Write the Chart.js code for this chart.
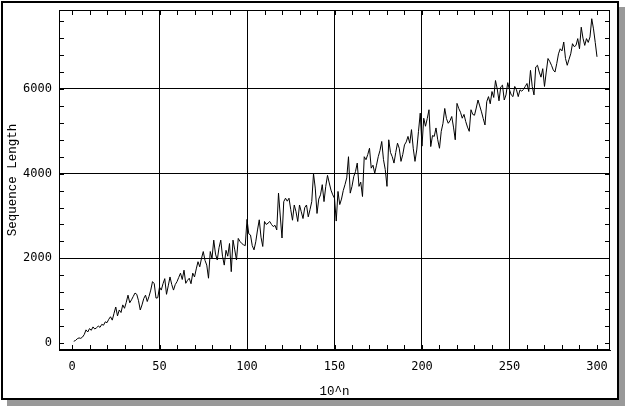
<!DOCTYPE html>
<html>
<head>
<meta charset="utf-8">
<script src="https://cdn.jsdelivr.net/npm/chart.js@4"></script>
<style>
  body { margin: 0; background: #fff; }
  #frame {
    position: absolute; left: 1px; top: 1px;
    width: 614px; height: 395px;
    border: 2px solid #000;
    box-shadow: 6px 6px 0 #999;
    background: #fff;
  }
  #chart { position: absolute; left: 0; top: 0; }
</style>
</head>
<body>
<div id="frame"></div>
<canvas id="chart" width="627" height="406"></canvas>
<script>
// sequence length for n = 1..300
const seqLength = [
  40, 60, 100, 120, 110, 140, 200, 310, 260, 340,
  300, 380, 330, 360, 400, 370, 440, 420, 500, 480,
  560, 620, 540, 700, 850, 640, 780, 720, 900, 820,
  960, 1130, 950, 1020, 1100, 1180, 1150, 1000, 780, 900,
  1050, 1130, 980, 1100, 1250, 1450, 1400, 1060, 1070, 1320,
  1250, 1400, 1520, 1150, 1350, 1560, 1380, 1250, 1380, 1450,
  1550, 1650, 1500, 1720, 1410, 1480, 1530, 1400, 1650, 1560,
  1750, 1920, 1800, 2000, 2160, 1950, 1840, 1530, 2160, 2000,
  2430, 2100, 1960, 2250, 2430, 2050, 1840, 2190, 2050, 2350,
  1685, 2430, 2200, 1960, 2470, 2400, 2350, 2320, 2300, 2920,
  2580, 2550, 2300, 2200, 2390, 2670, 2910, 2500, 2280, 2870,
  2800, 2830, 2870, 2800, 2750, 2780, 2670, 3540, 3000, 2480,
  3340, 3420, 3350, 3420, 3150, 2900, 3260, 3100, 2870, 3260,
  3100, 2940, 3200, 3260, 2980, 3150, 3340, 4000, 3660, 3060,
  3400, 3500, 3740, 3340, 3700, 3960, 3780, 3610, 3500, 3420,
  2880, 3580, 3270, 3400, 3600, 3740, 3900, 4400, 3540, 3700,
  3930, 4050, 4250, 3700, 3800, 3460, 4400, 4330, 4450, 4600,
  4130, 4200, 4010, 4200, 4400, 4550, 4760, 4330, 4100, 3700,
  4800, 4500, 4400, 4250, 4500, 4720, 4600, 4290, 4450, 4680,
  4750, 4880, 4720, 5040, 4600, 4290, 4560, 5000, 5430, 4650,
  5310, 5120, 5300, 5510, 4640, 4900, 4880, 5080, 4800, 4600,
  5000, 5190, 5540, 5300, 5190, 5250, 5350, 5100, 4800, 5660,
  5540, 5450, 5310, 5400, 5230, 5100, 5000, 5510, 5400, 5380,
  5550, 5740, 5600, 5460, 5300, 5150, 5700, 5820, 5650, 5940,
  5800, 6200, 6000, 5720, 6050, 6090, 5740, 5860, 6150, 5980,
  5860, 5820, 6060, 5980, 5820, 5980, 5950, 5990, 6060, 6130,
  5940, 6440, 6060, 5860, 6520, 6560, 6400, 6280, 6480, 6060,
  6400, 6720, 6650, 6560, 6450, 6400, 6600, 6830, 6950, 6900,
  7110, 6720, 6560, 6700, 6830, 7070, 7000, 7030, 7190, 6950,
  7460, 7200, 7030, 7190, 7100, 7230, 7660, 7420, 7100, 6760
];
const nValues = seqLength.map((_, i) => i + 1);

const xTicks = [0, 50, 100, 150, 200, 250, 300];
const yTicks = [0, 2000, 4000, 6000];
const xMinorStep = 10;
const yMinorStep = 400;

const tickFont = { family: 'DejaVu Sans Mono', size: 12 };
const titleFont = { family: 'Liberation Mono', size: 12.5 };

// plot frame + small inward ticks on all four sides
const frameTicks = {
  id: 'frameTicks',
  afterDatasetsDraw(chart) {
    const { ctx, chartArea: a, scales: { x, y } } = chart;
    ctx.save();
    ctx.strokeStyle = '#000';
    ctx.lineWidth = 1;
    ctx.strokeRect(a.left + 0.5, a.top + 0.5, a.right - a.left - 1, a.bottom - a.top - 1);
    ctx.beginPath();
    for (let v = 0; v <= 300; v += xMinorStep) {
      const px = Math.round(x.getPixelForValue(v)) + 0.5;
      ctx.moveTo(px, a.bottom); ctx.lineTo(px, a.bottom - 5);
      ctx.moveTo(px, a.top); ctx.lineTo(px, a.top + 5);
    }
    for (let v = 0; v <= 7600; v += yMinorStep) {
      const py = Math.round(y.getPixelForValue(v)) + 0.5;
      ctx.moveTo(a.left, py); ctx.lineTo(a.left + 5, py);
      ctx.moveTo(a.right, py); ctx.lineTo(a.right - 5, py);
    }
    ctx.stroke();
    ctx.restore();
  }
};

new Chart(document.getElementById('chart'), {
  type: 'line',
  data: {
    labels: nValues,
    datasets: [{
      data: seqLength,
      borderColor: '#000',
      borderWidth: 1,
      pointRadius: 0,
      tension: 0,
      fill: false
    }]
  },
  options: {
    responsive: false,
    animation: false,
    devicePixelRatio: 1,
    layout: { padding: { top: 10, right: 17, left: 0, bottom: 0 } },
    plugins: { legend: { display: false }, tooltip: { enabled: false } },
    scales: {
      x: {
        type: 'linear',
        min: -7.43,
        max: 307.43,
        afterBuildTicks: s => { s.ticks = xTicks.map(v => ({ value: v })); },
        afterFit: s => { s.height = 56; s.paddingLeft = 0; s.paddingRight = 0; },
        grid: {
          drawTicks: false,
          lineWidth: 1,
          color: c => (c.tick && c.tick.value > 0 && c.tick.value < 300) ? '#000' : 'rgba(0,0,0,0)'
        },
        border: { display: true, color: '#000', width: 1 },
        ticks: { color: '#000', font: tickFont, padding: 10, maxRotation: 0, callback: v => String(v) },
        title: {
          display: true, text: '10^n', color: '#000', font: titleFont,
          padding: { top: 0, bottom: 6.5 }
        }
      },
      y: {
        type: 'linear',
        min: -165.4,
        max: 7866,
        afterBuildTicks: s => { s.ticks = yTicks.map(v => ({ value: v })); },
        afterFit: s => { s.width = 59; s.paddingTop = 0; s.paddingBottom = 0; },
        grid: {
          drawTicks: false,
          lineWidth: 1,
          color: c => (c.tick && c.tick.value > 0) ? '#000' : 'rgba(0,0,0,0)'
        },
        border: { display: true, color: '#000', width: 1 },
        ticks: { color: '#000', font: tickFont, padding: 7, callback: v => String(v) },
        title: {
          display: true, text: 'Sequence Length', color: '#000', font: titleFont,
          padding: { top: 5, bottom: 0 }
        }
      }
    }
  },
  plugins: [frameTicks]
});
</script>
</body>
</html>
